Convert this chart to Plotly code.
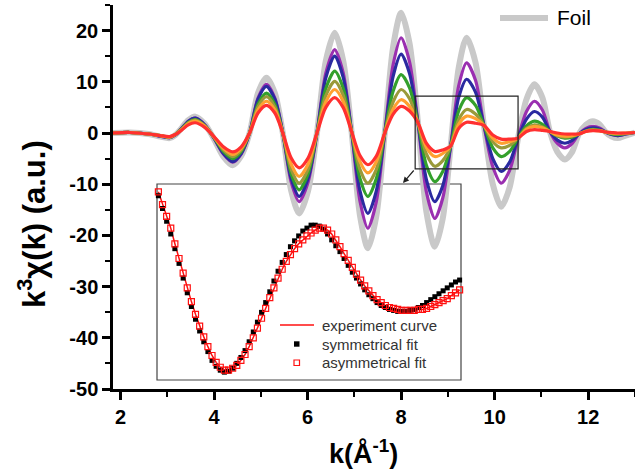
import plotly.graph_objects as go

# ---------------- main panel data ----------------
k_main = [1.84, 2.2, 2.6, 2.85, 3.05, 3.17, 3.3, 3.45, 3.6, 3.8, 4.0, 4.2, 4.4, 4.58, 4.76,
          4.94, 5.12, 5.30, 5.47, 5.65, 5.82, 6.01, 6.2, 6.39, 6.58, 6.76, 6.94, 7.12, 7.29,
          7.47, 7.65, 7.83, 8.0, 8.18, 8.36, 8.54, 8.72, 8.89, 9.06, 9.23, 9.40, 9.59, 9.77,
          9.96, 10.14, 10.32, 10.5, 10.68, 10.85, 11.02, 11.18, 11.34, 11.5, 11.65, 11.8,
          11.95, 12.1, 12.24, 12.37, 12.5, 12.63, 12.8, 13.0]
foil = [0, 0.1, -0.2, -0.7, -1.0, -0.4, 0.9, 2.5, 3.2, 1.8, -1.2, -4.6, -6.3,
        -4.5, 0, 7.8, 10.8, 7.8, 0, -11.3, -15.7, -11.3, 0,
        14.1, 19.6, 14.2, 0.3, -16.1, -22.5, -16.2, 0,
        16.9, 23.5, 17.5, 2.0, -15.4, -22.2, -16.7, -2.5,
        12.7, 18.6, 13.8, 1.5, -10.0, -14.4, -10.6, -1.0,
        6.6, 9.5, 6.9, 0.3, -3.7, -5.2, -3.8, -0.2,
        1.6, 2.3, 1.7, 0.2, -0.7, -1.0, -0.5, 0.1]
purple = [0, 0.1, -0.2, -0.6, -0.9, -0.4, 0.8, 2.3, 2.9, 1.6, -1.0, -4.1, -5.7,
          -4.1, 0, 6.8, 9.5, 6.8, 0, -9.6, -13.4, -9.6, 0,
          11.7, 16.3, 11.8, 0.3, -13.3, -18.6, -13.4, 0,
          13.4, 18.6, 13.9, 2.0, -11.5, -16.7, -12.7, -2.5,
          9.2, 13.7, 10.3, 1.5, -6.6, -9.8, -7.3, -1.0,
          4.2, 6.2, 4.5, 0.3, -2.0, -2.9, -2.1, -0.2,
          0.9, 1.3, 1.0, 0.2, -0.3, -0.5, -0.2, 0.1]
blue = [0, 0.1, -0.2, -0.6, -0.9, -0.4, 0.8, 2.3, 2.9, 1.6, -1.0, -4.0, -5.6,
        -4.0, 0, 6.6, 9.1, 6.6, 0, -8.9, -12.4, -8.9, 0,
        10.8, 15.0, 10.9, 0.3, -11.3, -15.7, -11.3, 0,
        11.1, 15.4, 11.6, 2.0, -9.1, -13.4, -10.3, -2.5,
        6.9, 10.5, 8.0, 1.5, -5.0, -7.5, -5.7, -1.0,
        2.7, 4.2, 3.1, 0.3, -1.4, -2.0, -1.5, -0.2,
        0.7, 1.0, 0.8, 0.2, -0.3, -0.5, -0.2, 0.1]
green = [0, 0.1, -0.2, -0.5, -0.8, -0.3, 0.7, 2.1, 2.6, 1.4, -0.9, -3.6, -5.0,
         -3.6, 0, 5.6, 7.8, 5.6, 0, -8.0, -11.1, -8.0, 0,
         8.7, 12.1, 8.8, 0.3, -8.9, -12.4, -8.9, 0,
         8.2, 11.4, 8.8, 2.0, -6.3, -9.5, -7.5, -2.5,
         4.3, 6.9, 5.4, 1.5, -2.9, -4.6, -3.6, -1.0,
         1.4, 2.3, 1.7, 0.3, -0.6, -1.0, -0.8, -0.2,
         0.4, 0.7, 0.5, 0.2, -0.2, -0.3, -0.1, 0.1]
olive = [0, 0.1, -0.2, -0.5, -0.8, -0.3, 0.7, 2.0, 2.5, 1.4, -0.8, -3.3, -4.6,
         -3.3, 0, 5.1, 7.1, 5.1, 0, -7.1, -9.8, -7.1, 0,
         7.3, 10.1, 7.4, 0.3, -7.1, -9.8, -7.1, 0,
         6.1, 8.5, 6.7, 2.0, -4.1, -6.5, -5.4, -2.5,
         2.6, 4.6, 3.7, 1.5, -1.7, -2.9, -2.4, -1.0,
         0.9, 1.6, 1.2, 0.3, -0.5, -0.8, -0.6, -0.2,
         0.4, 0.6, 0.5, 0.2, -0.1, -0.2, -0.1, 0.1]
orange = [0, 0.1, -0.2, -0.5, -0.8, -0.3, 0.6, 1.8, 2.3, 1.3, -0.8, -3.0, -4.2,
          -3.0, 0, 4.5, 6.2, 4.5, 0, -6.1, -8.5, -6.1, 0,
          6.1, 8.5, 6.2, 0.3, -5.6, -7.8, -5.6, 0,
          4.7, 6.5, 5.2, 2.0, -2.8, -4.6, -4.0, -2.5,
          1.7, 3.3, 2.8, 1.5, -1.0, -2.0, -1.7, -1.0,
          0.7, 1.3, 1.0, 0.3, -0.4, -0.6, -0.5, -0.2,
          0.3, 0.5, 0.4, 0.2, 0.0, -0.1, 0.0, 0.1]
red = [0, 0.1, -0.2, -0.5, -0.7, -0.3, 0.5, 1.6, 2.0, 1.1, -0.7, -2.7, -3.7,
       -2.7, 0, 3.9, 5.4, 3.9, 0, -4.9, -6.8, -4.9, 0,
       5.0, 6.9, 5.0, 0.3, -4.4, -6.2, -4.5, 0,
       3.7, 5.2, 4.3, 2.0, -2.0, -3.6, -3.3, -2.5,
       0.9, 2.1, 1.9, 1.5, -0.4, -1.2, -1.2, -1.0,
       0.3, 0.65, 0.5, 0.3, 0.0, -0.2, -0.2, -0.2,
       0.3, 0.45, 0.4, 0.2, 0.1, 0.0, 0.0, 0.1]

x_ticks = [2, 4, 6, 8, 10, 12]
y_ticks = [-50, -40, -30, -20, -10, 0, 10, 20]

# ---------------- inset data (zoom of the boxed region) ----------------
inset_k_start = 8.30
inset_k_step = 0.03
experiment = [0.92, 0.79, 0.67, 0.55, 0.39, 0.24, 0.09, -0.06, -0.20, -0.33, -0.45, -0.56,
              -0.66, -0.75, -0.82, -0.87, -0.90, -0.90, -0.88, -0.85, -0.80, -0.74, -0.66,
              -0.57, -0.47, -0.37, -0.27, -0.16, -0.06, 0.04, 0.13, 0.21, 0.28, 0.34, 0.39,
              0.43, 0.47, 0.50, 0.53, 0.55, 0.55, 0.53, 0.49, 0.43, 0.36, 0.29, 0.22, 0.15,
              0.08, 0.02, -0.04, -0.09, -0.14, -0.18, -0.21, -0.24, -0.26, -0.27, -0.28,
              -0.29, -0.29, -0.29, -0.29, -0.28, -0.28, -0.27, -0.25, -0.23, -0.21, -0.19,
              -0.17, -0.14, -0.11, -0.08]
asym_fit = list(experiment)
sym_fit = [0.88, 0.75, 0.62, 0.49, 0.34, 0.19, 0.04, -0.11, -0.25, -0.38, -0.50, -0.61,
           -0.71, -0.80, -0.86, -0.90, -0.92, -0.91, -0.88, -0.83, -0.77, -0.70, -0.61,
           -0.51, -0.41, -0.31, -0.21, -0.10, 0.01, 0.11, 0.20, 0.28, 0.36, 0.42, 0.47,
           0.52, 0.55, 0.58, 0.58, 0.57, 0.54, 0.49, 0.43, 0.37, 0.31, 0.24, 0.17, 0.10,
           0.04, -0.02, -0.08, -0.13, -0.17, -0.21, -0.24, -0.26, -0.28, -0.29, -0.30,
           -0.30, -0.30, -0.29, -0.28, -0.26, -0.24, -0.21, -0.18, -0.15, -0.12, -0.09,
           -0.06, -0.03, 0.00, 0.02]
inset_k = [round(inset_k_start + i * inset_k_step, 2) for i in range(len(experiment))]

# ---------------- figure ----------------
W, H = 635, 471
ML, MR, MT, MB = 113, 0, 5, 82
PW, PH = W - ML - MR, H - MT - MB


def px(x):
    return (x - ML) / PW


def py(y):
    return (H - MB - y) / PH


fig = go.Figure()

series = [
    ("Foil", foil, "#c9c9c9", 6),
    ("s1", purple, "#9a2fb0", 3.2),
    ("s2", blue, "#2a2aa0", 3.2),
    ("s3", green, "#33a02c", 3.2),
    ("s4", olive, "#9a9a3a", 3.2),
    ("s5", orange, "#ffa030", 3.2),
    ("s6", red, "#ff3030", 3.2),
]
for name, vals, col, w in series:
    fig.add_trace(go.Scatter(x=k_main, y=vals, mode="lines", name=name,
                             line=dict(color=col, width=w, shape="spline", smoothing=0.8),
                             showlegend=False, xaxis="x", yaxis="y"))

fig.add_trace(go.Scatter(x=inset_k, y=experiment, mode="lines", name="experiment curve",
                         line=dict(color="#ff1010", width=1.5), showlegend=False,
                         xaxis="x2", yaxis="y2", cliponaxis=False))
fig.add_trace(go.Scatter(x=inset_k, y=sym_fit, mode="markers", name="symmetrical fit",
                         marker=dict(symbol="square", size=5, color="black"), showlegend=False,
                         xaxis="x2", yaxis="y2", cliponaxis=False))
fig.add_trace(go.Scatter(x=inset_k, y=asym_fit, mode="markers", name="asymmetrical fit",
                         marker=dict(symbol="square-open", size=6, color="#ff1010",
                                     line=dict(width=1.2)), showlegend=False,
                         xaxis="x2", yaxis="y2", cliponaxis=False))

tickfont = dict(family="Arial", size=20, color="black", weight="bold")
fig.update_layout(
    width=W, height=H,
    margin=dict(l=ML, r=MR, t=MT, b=MB, autoexpand=False),
    paper_bgcolor="white", plot_bgcolor="rgba(0,0,0,0)",
    xaxis=dict(range=[1.84, 13.0], tickvals=x_ticks, ticktext=[str(v) for v in x_ticks],
               showgrid=False, zeroline=False, showline=True, linecolor="black", linewidth=2.5,
               ticks="outside", ticklen=8, tickwidth=2.5, tickcolor="black", tickfont=tickfont,
               minor=dict(dtick=1, tick0=0, ticks="outside", ticklen=5, tickwidth=2,
                          tickcolor="black"),
               domain=[0, 1]),
    yaxis=dict(range=[-50, 25], tickvals=y_ticks, ticktext=[str(v) for v in y_ticks],
               showgrid=False, zeroline=False, showline=True, linecolor="black", linewidth=2.5,
               ticks="outside", ticklen=8, tickwidth=2.5, tickcolor="black", tickfont=tickfont,
               minor=dict(dtick=5, tick0=0, ticks="outside", ticklen=5, tickwidth=2,
                          tickcolor="black"),
               domain=[0, 1]),
    xaxis2=dict(range=[8.29, 10.50], domain=[px(157), px(461)], anchor="y2", visible=False),
    yaxis2=dict(range=[-1.0, 1.0], domain=[py(380), py(184)], anchor="x2", visible=False),
)

shapes = [
    dict(type="rect", xref="x", yref="y", x0=8.30, x1=10.50, y0=-7.0, y1=7.2,
         line=dict(color="#222", width=1.2)),
    dict(type="rect", xref="paper", yref="paper", x0=px(157), x1=px(461), y0=py(380),
         y1=py(184), line=dict(color="#444", width=1.2), layer="below"),
    dict(type="line", xref="paper", yref="paper", x0=px(500), x1=px(548), y0=py(18), y1=py(18),
         line=dict(color="#c9c9c9", width=6)),
    dict(type="line", xref="paper", yref="paper", x0=px(280), x1=px(314), y0=py(325),
         y1=py(325), line=dict(color="#ff1010", width=1.5)),
    dict(type="rect", xref="paper", yref="paper", x0=px(294), x1=px(299.5), y0=py(346.7),
         y1=py(341.3), fillcolor="black", line=dict(width=0)),
    dict(type="rect", xref="paper", yref="paper", x0=px(294), x1=px(299.5), y0=py(365.5),
         y1=py(360), line=dict(color="#ff1010", width=1.2)),
]
fig.update_layout(shapes=shapes)

ann = [
    dict(xref="paper", yref="paper", x=px(555), y=py(18), text="Foil", showarrow=False,
         xanchor="left", yanchor="middle", font=dict(family="Arial", size=21, color="black")),
    dict(xref="paper", yref="paper", x=px(320), y=py(325), text="experiment curve",
         showarrow=False, xanchor="left", yanchor="middle",
         font=dict(family="Arial", size=15, color="#333")),
    dict(xref="paper", yref="paper", x=px(320), y=py(344), text="symmetrical fit",
         showarrow=False, xanchor="left", yanchor="middle",
         font=dict(family="Arial", size=15, color="#333")),
    dict(xref="paper", yref="paper", x=px(320), y=py(362.7), text="asymmetrical fit",
         showarrow=False, xanchor="left", yanchor="middle",
         font=dict(family="Arial", size=15, color="#333")),
    dict(xref="paper", yref="paper", x=px(403), y=py(183), ax=12, ay=-14, text="",
         showarrow=True, arrowhead=2, arrowsize=1, arrowwidth=1.2, arrowcolor="#222"),
    dict(xref="paper", yref="paper", x=px(363), y=py(452), text="k(Å<sup>-1</sup>)",
         showarrow=False, xanchor="center", yanchor="middle",
         font=dict(family="Arial", size=27, color="black", weight="bold")),
    dict(xref="paper", yref="paper", x=px(32), y=py(224), text="k<sup>3</sup>χ(k) (a.u.)",
         showarrow=False, xanchor="center", yanchor="middle", textangle=-90,
         font=dict(family="Arial", size=31, color="black", weight="bold")),
]
fig.update_layout(annotations=ann)

# the browser's default 8px page margin would shift the whole figure
fig.write_html("out.html", config={"displayModeBar": False},
               post_script="document.body.style.margin='0';")
